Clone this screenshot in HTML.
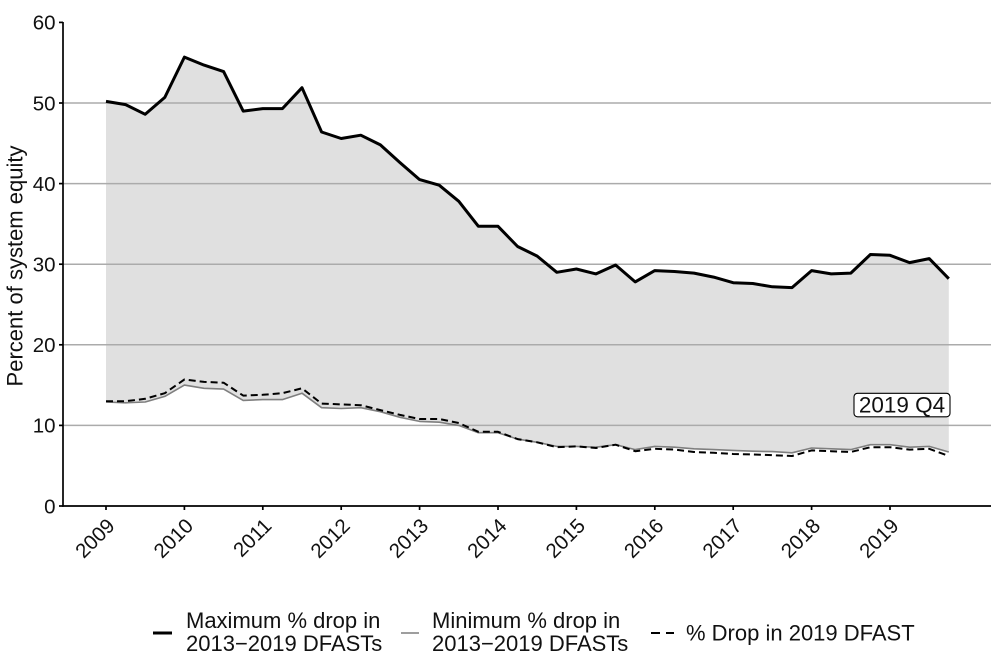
<!DOCTYPE html>
<html>
<head>
<meta charset="utf-8">
<style>
  html, body { margin: 0; padding: 0; background: #ffffff; }
  svg { display: block; }
  text { font-family: "Liberation Sans", Arial, sans-serif; fill: #111; }
</style>
</head>
<body>
<svg width="1000" height="659" viewBox="0 0 1000 659" xmlns="http://www.w3.org/2000/svg">
  <!-- shaded area between max and min -->
  <polygon fill="#e0e0e0" stroke="none" points="
106,101.4 125.6,104.6 145.2,114.3 164.8,97.4 184.4,57.1 204,65.1 223.6,71.6 243.2,111.1 262.8,108.6 282.4,108.6 302,87.7 321.6,132.0 341.2,138.5 360.8,135.2 380.4,144.9 400,162.6 419.6,179.6 439.2,185.2 458.8,201.3 478.4,226.3 498,226.3 517.6,246.5 537.2,256.1 556.8,272.3 576.4,269.0 596,273.9 615.6,265.0 635.2,281.9 654.8,270.6 674.4,271.5 694,273.1 713.6,277.1 733.2,282.7 752.8,283.5 772.4,286.8 792,287.6 811.6,270.6 831.2,273.9 850.8,273.1 870.4,254.5 890,255.3 909.6,262.6 929.2,258.6 948.8,278.7
948.8,452.0 929.2,446.4 909.6,447.2 890,444.7 870.4,444.7 850.8,449.6 831.2,448.8 811.6,448.0 792,452.8 772.4,451.6 752.8,451.2 733.2,450.4 713.6,449.6 694,448.8 674.4,447.2 654.8,446.4 635.2,449.6 615.6,444.7 596,447.2 576.4,446.4 556.8,446.4 537.2,442.3 517.6,439.1 498,432.7 478.4,432.7 458.8,425.4 439.2,422.2 419.6,421.4 400,417.3 380.4,411.7 360.8,407.7 341.2,408.5 321.6,407.7 302,393.2 282.4,399.6 262.8,399.6 243.2,400.4 223.6,389.1 204,388.3 184.4,385.1 164.8,396.4 145.2,402.0 125.6,402.8 106,402.0"/>

  <!-- gridlines -->
  <g stroke="#ababab" stroke-width="1.5">
    <line x1="63" y1="425.4" x2="991" y2="425.4"/>
    <line x1="63" y1="344.8" x2="991" y2="344.8"/>
    <line x1="63" y1="264.2" x2="991" y2="264.2"/>
    <line x1="63" y1="183.6" x2="991" y2="183.6"/>
    <line x1="63" y1="103" x2="991" y2="103"/>
  </g>

  <!-- axes -->
  <g stroke="#000" stroke-width="1.7">
    <line x1="63" y1="22" x2="63" y2="506.8"/>
    <line x1="62.2" y1="506" x2="991" y2="506"/>
    <!-- y ticks -->
    <line x1="59" y1="506" x2="63" y2="506"/>
    <line x1="59" y1="425.4" x2="63" y2="425.4"/>
    <line x1="59" y1="344.8" x2="63" y2="344.8"/>
    <line x1="59" y1="264.2" x2="63" y2="264.2"/>
    <line x1="59" y1="183.6" x2="63" y2="183.6"/>
    <line x1="59" y1="103" x2="63" y2="103"/>
    <line x1="59" y1="22.4" x2="63" y2="22.4"/>
    <!-- x ticks -->
    <line x1="106" y1="506" x2="106" y2="510"/>
    <line x1="184.4" y1="506" x2="184.4" y2="510"/>
    <line x1="262.8" y1="506" x2="262.8" y2="510"/>
    <line x1="341.2" y1="506" x2="341.2" y2="510"/>
    <line x1="419.6" y1="506" x2="419.6" y2="510"/>
    <line x1="498" y1="506" x2="498" y2="510"/>
    <line x1="576.4" y1="506" x2="576.4" y2="510"/>
    <line x1="654.8" y1="506" x2="654.8" y2="510"/>
    <line x1="733.2" y1="506" x2="733.2" y2="510"/>
    <line x1="811.6" y1="506" x2="811.6" y2="510"/>
    <line x1="890" y1="506" x2="890" y2="510"/>
  </g>

  <!-- y tick labels -->
  <g font-size="20.5" text-anchor="end">
    <text x="55.5" y="513.3">0</text>
    <text x="55.5" y="432.7">10</text>
    <text x="55.5" y="352.1">20</text>
    <text x="55.5" y="271.5">30</text>
    <text x="55.5" y="190.9">40</text>
    <text x="55.5" y="110.3">50</text>
    <text x="55.5" y="29.7">60</text>
  </g>

  <!-- x tick labels -->
  <g font-size="20.5" text-anchor="end">
    <text transform="translate(116,527) rotate(-45)">2009</text>
    <text transform="translate(194.4,527) rotate(-45)">2010</text>
    <text transform="translate(272.8,527) rotate(-45)">2011</text>
    <text transform="translate(351.2,527) rotate(-45)">2012</text>
    <text transform="translate(429.6,527) rotate(-45)">2013</text>
    <text transform="translate(508,527) rotate(-45)">2014</text>
    <text transform="translate(586.4,527) rotate(-45)">2015</text>
    <text transform="translate(664.8,527) rotate(-45)">2016</text>
    <text transform="translate(743.2,527) rotate(-45)">2017</text>
    <text transform="translate(821.6,527) rotate(-45)">2018</text>
    <text transform="translate(900,527) rotate(-45)">2019</text>
  </g>

  <!-- y axis title -->
  <text font-size="22" text-anchor="middle" transform="translate(22.5,266) rotate(-90)">Percent of system equity</text>

  <!-- min line (gray) -->
  <polyline fill="none" stroke="#7f7f7f" stroke-width="1.6" stroke-linejoin="round" points="
106,402.0 125.6,402.8 145.2,402.0 164.8,396.4 184.4,385.1 204,388.3 223.6,389.1 243.2,400.4 262.8,399.6 282.4,399.6 302,393.2 321.6,407.7 341.2,408.5 360.8,407.7 380.4,411.7 400,417.3 419.6,421.4 439.2,422.2 458.8,425.4 478.4,432.7 498,432.7 517.6,439.1 537.2,442.3 556.8,446.4 576.4,446.4 596,447.2 615.6,444.7 635.2,449.6 654.8,446.4 674.4,447.2 694,448.8 713.6,449.6 733.2,450.4 752.8,451.2 772.4,451.6 792,452.8 811.6,448.0 831.2,448.8 850.8,449.6 870.4,444.7 890,444.7 909.6,447.2 929.2,446.4 948.8,452.0"/>

  <!-- dashed 2019 DFAST line -->
  <polyline fill="none" stroke="#000" stroke-width="2" stroke-dasharray="7 4" stroke-linejoin="round" points="
106,401.2 125.6,401.2 145.2,398.8 164.8,393.2 184.4,379.5 204,381.9 223.6,382.7 243.2,395.6 262.8,394.8 282.4,393.2 302,388.3 321.6,403.6 341.2,404.4 360.8,405.2 380.4,410.1 400,414.9 419.6,419.0 439.2,419.0 458.8,423.0 478.4,431.8 498,431.8 517.6,439.1 537.2,442.3 556.8,447.2 576.4,446.4 596,448.0 615.6,444.7 635.2,451.2 654.8,448.8 674.4,449.6 694,452.0 713.6,452.8 733.2,454.0 752.8,454.4 772.4,455.2 792,456.0 811.6,450.4 831.2,451.2 850.8,452.0 870.4,447.2 890,447.2 909.6,449.6 929.2,448.8 948.8,456.0"/>

  <!-- max line -->
  <polyline fill="none" stroke="#000" stroke-width="3" stroke-linejoin="round" points="
106,101.4 125.6,104.6 145.2,114.3 164.8,97.4 184.4,57.1 204,65.1 223.6,71.6 243.2,111.1 262.8,108.6 282.4,108.6 302,87.7 321.6,132.0 341.2,138.5 360.8,135.2 380.4,144.9 400,162.6 419.6,179.6 439.2,185.2 458.8,201.3 478.4,226.3 498,226.3 517.6,246.5 537.2,256.1 556.8,272.3 576.4,269.0 596,273.9 615.6,265.0 635.2,281.9 654.8,270.6 674.4,271.5 694,273.1 713.6,277.1 733.2,282.7 752.8,283.5 772.4,286.8 792,287.6 811.6,270.6 831.2,273.9 850.8,273.1 870.4,254.5 890,255.3 909.6,262.6 929.2,258.6 948.8,278.7"/>

  <!-- annotation label -->
  <rect x="854" y="393.3" width="96" height="23.5" rx="3.5" ry="3.5" fill="#ffffff" stroke="#000" stroke-width="1.1"/>
  <text x="902" y="412.7" font-size="22.5" text-anchor="middle">2019 Q4</text>

  <!-- legend -->
  <line x1="153" y1="633" x2="172" y2="633" stroke="#000" stroke-width="3"/>
  <text x="186" y="628" font-size="22">Maximum % drop in</text>
  <text x="186" y="651" font-size="22">2013−2019 DFASTs</text>

  <line x1="401" y1="633" x2="419" y2="633" stroke="#7f7f7f" stroke-width="1.6"/>
  <text x="432" y="628" font-size="22">Minimum % drop in</text>
  <text x="432" y="651" font-size="22">2013−2019 DFASTs</text>

  <line x1="651" y1="633" x2="660" y2="633" stroke="#000" stroke-width="2"/>
  <line x1="666" y1="633" x2="674" y2="633" stroke="#000" stroke-width="2"/>
  <text x="686" y="640.5" font-size="22">% Drop in 2019 DFAST</text>
</svg>
</body>
</html>
